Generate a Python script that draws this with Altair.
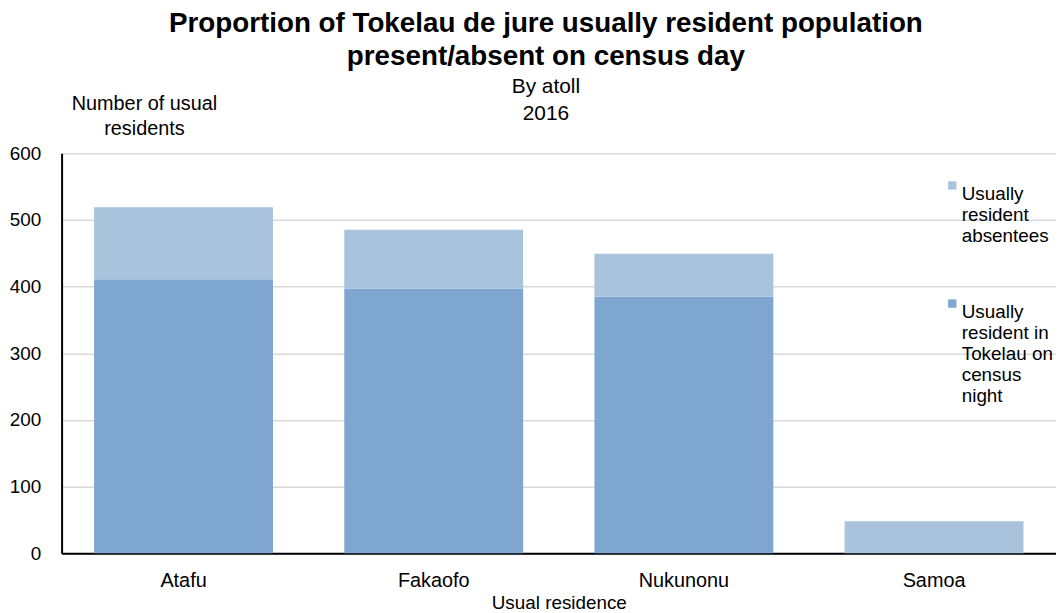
import altair as alt
import pandas as pd

atolls = ["Atafu", "Fakaofo", "Nukunonu", "Samoa"]
present = [411, 397, 385, 0]
absent = [108, 88, 64, 48]
series = ["Usually resident absentees", "Usually resident in Tokelau on census night"]
colors = ["#A9C3DD", "#7EA6D1"]

rows = []
for a, p, ab in zip(atolls, present, absent):
    rows.append({"atoll": a, "series": series[1], "value": p, "ord": 0})
    rows.append({"atoll": a, "series": series[0], "value": ab, "ord": 1})
df = pd.DataFrame(rows)

font = "Liberation Sans"

chart = alt.Chart(df).mark_bar().encode(
    x=alt.X("atoll:N", sort=atolls,
            scale=alt.Scale(paddingInner=0.285, paddingOuter=0.13),
            axis=alt.Axis(title="Usual residence", labelAngle=0, ticks=False,
                          domainColor="#000000", domainWidth=2,
                          labelFontSize=20, labelColor="#000000", labelPadding=18,
                          titleFontSize=19, titleFontWeight="normal", titleColor="#000000",
                          titlePadding=3)),
    y=alt.Y("value:Q", stack="zero",
            scale=alt.Scale(domain=[0, 600]),
            axis=alt.Axis(values=[0, 100, 200, 300, 400, 500, 600], ticks=False,
                          domainColor="#000000", domainWidth=2,
                          gridColor="#D9D9D9", gridWidth=1.5,
                          labelFontSize=19, labelColor="#000000", labelPadding=21,
                          title=["Number of usual", "residents"], titleAngle=0,
                          titleFontSize=20, titleFontWeight="normal", titleColor="#000000",
                          titleX=83, titleY=-60, titleAlign="center",
                          titleBaseline="top", titleLineHeight=25)),
    color=alt.Color("series:N",
                    scale=alt.Scale(domain=series, range=colors),
                    legend=alt.Legend(title=None, orient="none", legendX=888, legendY=23,
                                      symbolType="square", symbolSize=70,
                                      symbolStrokeWidth=0, labelFontSize=19,
                                      labelColor="#000000", rowPadding=48,
                                      labelLimit=200, labelBaseline="top",
                                      labelOffset=0,
                                      labelExpr="split(datum.label == 'Usually resident absentees' ? 'Usually|resident|absentees' : 'Usually|resident in|Tokelau on|census|night', '|')")),
    order=alt.Order("ord:Q"),
).properties(
    width=1002,
    height=403,
    autosize="none",
    padding={"left": 54, "top": 144, "right": 0, "bottom": 58},
    title=alt.Title(
        text=["Proportion of Tokelau de jure usually resident population",
              "present/absent on census day"],
        subtitle=["By atoll", "2016"],
        fontSize=28, fontWeight="bold", color="#000000",
        subtitleFontSize=21, subtitleColor="#000000",
        subtitleFont=font, font=font, anchor="middle",
        offset=0, dx=-13, dy=31, lineHeight=33, subtitleLineHeight=28,
        subtitlePadding=5,
    ),
).configure(font=font).configure_view(stroke=None)

chart.save("out.html", embed_options={"renderer": "svg", "actions": False})
